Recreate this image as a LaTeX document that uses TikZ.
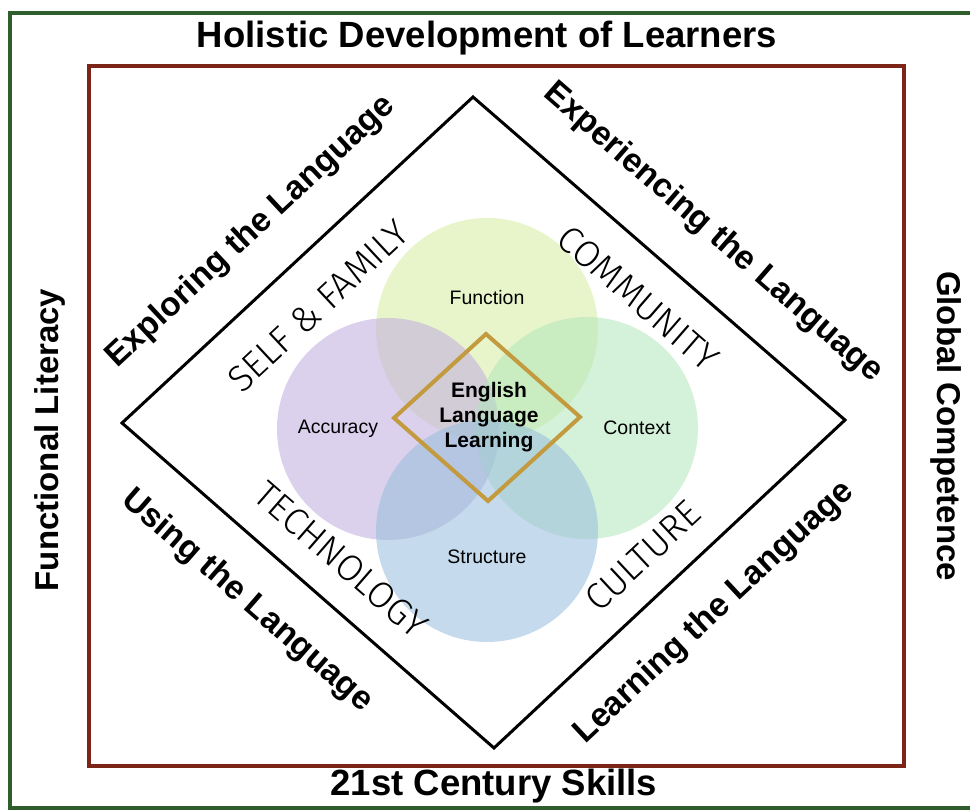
\documentclass[tikz,border=0pt]{standalone}
\usepackage{fontspec}
\setmainfont{Liberation Sans}
\newfontfamily\lightfont{Fira Sans Light}
\usetikzlibrary{positioning,calc}

\definecolor{framegreen}{RGB}{47,94,44}
\definecolor{framered}{RGB}{124,36,24}
\definecolor{gold}{RGB}{195,154,62}
\definecolor{funcfill}{RGB}{214,236,160}
\definecolor{accfill}{RGB}{190,172,222}
\definecolor{ctxfill}{RGB}{176,230,186}
\definecolor{strfill}{RGB}{150,188,220}

\begin{document}
\begin{tikzpicture}[x=1pt, y=-1pt,
    frame/.style={line width=4pt},
    heading/.style={font=\fontsize{36.5}{42}\selectfont\bfseries},
    sidehead/.style={font=\fontsize{33}{38}\selectfont\bfseries},
    stage/.style={font=\fontsize{33.5}{38}\selectfont\bfseries},
    lifearea/.style={font=\fontsize{37}{42}\selectfont\lightfont},
    ring/.style={circle, minimum size=222pt, inner sep=0pt, fill opacity=0.55},
    ringlabel/.style={font=\fontsize{19.5}{23}\selectfont}]

    \useasboundingbox (0,0) rectangle (970,810);

    % frames
    \draw[frame, framegreen] (10,13) rectangle (990,808);
    \draw[frame, framered]   (89,66) rectangle (904,766);

    \node[heading]                   (holistic) at (487,38)  {Holistic Development of Learners};
    \node[heading]                   (skills)   at (494,786) {21st Century Skills};
    \node[sidehead, rotate=90]       (literacy) at (50,440)  {Functional Literacy};
    \node[sidehead, rotate=-90]      (global)   at (946,426) {Global Competence};

    % the big diamond
    \coordinate (top)    at (473,97);
    \coordinate (right)  at (845,420);
    \coordinate (bottom) at (494,748);
    \coordinate (left)   at (122,423);
    \draw[line width=3pt, line join=miter] (top) -- (right) -- (bottom) -- (left) -- cycle;

    \node[stage, rotate=43]          (explore)  at (251,232) {Exploring the Language};
    \node[stage, rotate=-41]         (experience) at (713,233) {Experiencing the Language};
    \node[stage, rotate=-41]         (use)      at (247,601) {Using the Language};
    \node[stage, rotate=43]          (learn)    at (714,613) {Learning the Language};

    % circles
    \node[ring, fill=funcfill]       (func)     at (487,329) {};
    \node[ring, fill=accfill]        (acc)      at (388,429) {};
    \node[ring, fill=ctxfill]        (ctx)      at (587,428) {};
    \node[ring, fill=strfill]        (struct)   at (487,531) {};

    \node[ringlabel]                 (funclbl)  at ($(func)+(0,-31)$)   {Function};
    \node[ringlabel]                 (acclbl)   at ($(acc)+(-50,0)$)    {Accuracy};
    \node[ringlabel]                 (ctxlbl)   at ($(ctx)+(50,0)$)     {Context};
    \node[ringlabel]                 (structlbl) at ($(struct)+(0,26)$) {Structure};

    \node[lifearea, rotate=43]       (self)     at (318,306) {SELF \& FAMILY};
    \node[lifearea, rotate=-41]      (community) at (638,298) {COMMUNITY};
    \node[lifearea, rotate=-41]      (tech)     at (341,560) {TECHNOLOGY};
    \node[lifearea, rotate=43]       (culture)  at (643,556) {CULTURE};

    % centre diamond
    \draw[gold, line width=4pt, line join=miter] (486,334) -- (580,417) -- (488,501) -- (394,418) -- cycle;
    \node[align=center, font=\fontsize{21}{25}\selectfont\bfseries] (ell) at (489,417) {English\\Language\\Learning};
\end{tikzpicture}
\end{document}
